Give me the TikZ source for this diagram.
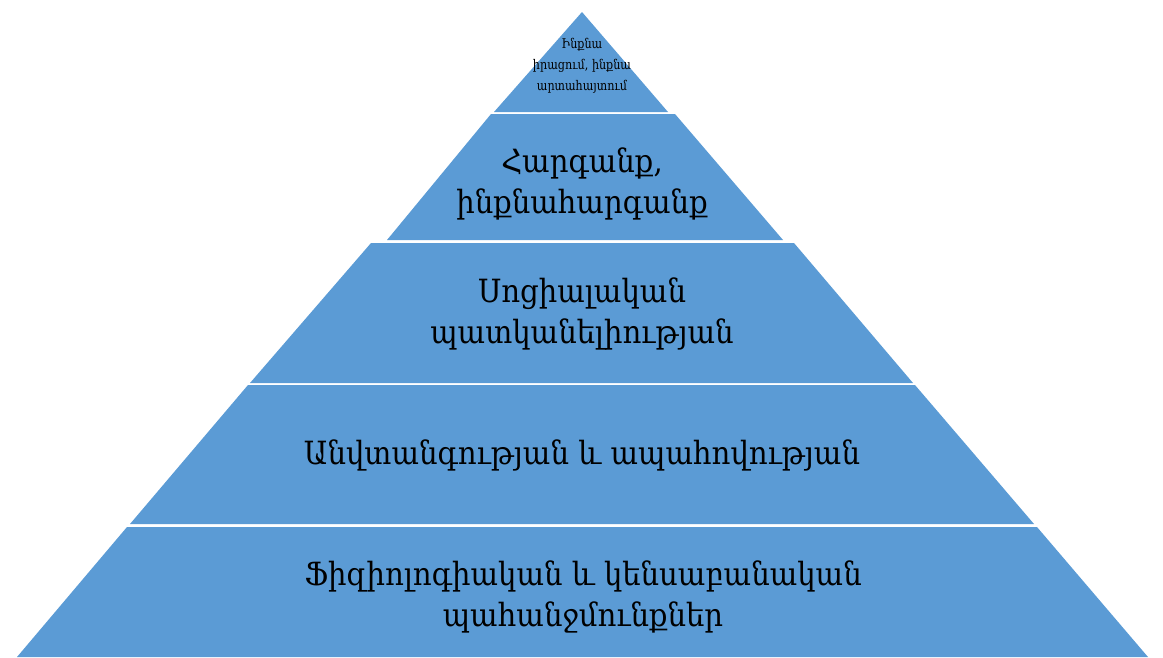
\documentclass[tikz,border=0pt]{standalone}
\usepackage{fontspec}
\setmainfont{DejaVu Serif}
\newfontfamily\armfont[FakeStretch=0.91]{DejaVu Serif}
\newfontfamily\armsmall[FakeStretch=0.84]{DejaVu Serif}
\definecolor{pyrblue}{RGB}{91,155,213}
\begin{document}
\begin{tikzpicture}[x=1pt,y=-1pt,
  band/.style={fill=pyrblue,draw=none},
  big/.style={align=center,font=\armfont\fontsize{32}{41}\selectfont,inner sep=0pt},
  small/.style={align=center,font=\armsmall\fontsize{13.3}{21}\selectfont,inner sep=0pt}]
\useasboundingbox (0,0) rectangle (1163,657);
\fill[band] (582,12) -- (668,112) -- (494,112) -- cycle;
\fill[band] (491,114) -- (675,114) -- (783,240) -- (387,240) -- cycle;
\fill[band] (371,243) -- (794,243) -- (913,383) -- (250,383) -- cycle;
\fill[band] (248,385) -- (915,385) -- (1034,524) -- (130,524) -- cycle;
\fill[band] (127,527) -- (1037,527) -- (1148,657) -- (17,657) -- cycle;
\node[small] (l1) at (582,65.5) {Ինքնա\\իրացում, ինքնա\\արտահայտում};
\node[big] (l2) at (582,184) {Հարգանք,\\ինքնահարգանք};
\node[big] (l3) at (582,314) {Սոցիալական\\պատկանելիության};
\node[big] (l4) at (582,455) {Անվտանգության և ապահովության};
\node[big] (l5) at (583,597) {Ֆիզիոլոգիական և կենսաբանական\\պահանջմունքներ};
\end{tikzpicture}
\end{document}
